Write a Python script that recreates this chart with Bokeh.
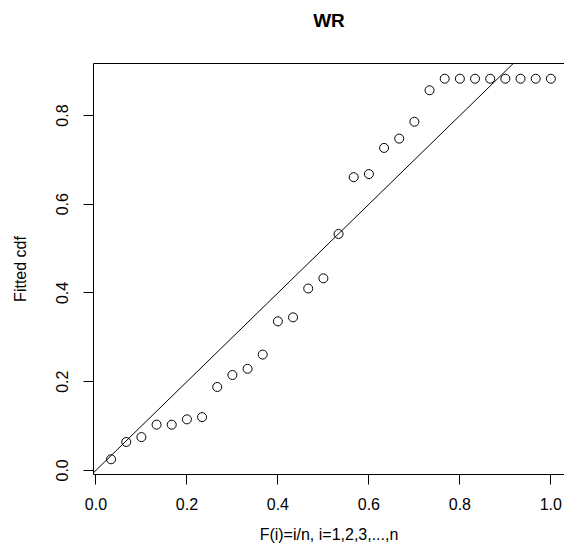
from bokeh.plotting import figure
from bokeh.models import Range1d, FixedTicker, PrintfTickFormatter, LinearAxis, Slope, ColumnDataSource
from bokeh.embed import file_html
from bokeh.resources import INLINE

# ---- data ----
f_i = [1/30, 2/30, 3/30, 4/30, 5/30, 6/30, 7/30, 8/30, 9/30, 10/30,
       11/30, 12/30, 13/30, 14/30, 15/30, 16/30, 17/30, 18/30, 19/30, 20/30,
       21/30, 22/30, 23/30, 24/30, 25/30, 26/30, 27/30, 28/30, 29/30, 30/30]
fitted_cdf = [0.025, 0.064, 0.075, 0.103, 0.103, 0.115, 0.120, 0.188, 0.215, 0.229,
              0.261, 0.336, 0.345, 0.410, 0.433, 0.533, 0.661, 0.668, 0.727, 0.748,
              0.786, 0.857, 0.883, 0.883, 0.883, 0.883, 0.883, 0.883, 0.883, 0.883]
x_ticks = [0.0, 0.2, 0.4, 0.6, 0.8, 1.0]
y_ticks = [0.0, 0.2, 0.4, 0.6, 0.8]
title_text = "WR"
x_label = "F(i)=i/n, i=1,2,3,...,n"
y_label = "Fitted cdf"

FONT = "Liberation Sans"

# R-style 4% axis padding
xr = max(f_i) - min(f_i)
yr = max(fitted_cdf) - min(fitted_cdf)
x_start = min(f_i) - 0.04 * xr
y_start = min(fitted_cdf) - 0.04 * yr
y_end = max(fitted_cdf) + 0.04 * yr
x_end = 1.030  # right edge of the visible (cropped) panel

p = figure(width=564, height=554, output_backend="svg", toolbar_location=None,
           x_range=Range1d(x_start, x_end), y_range=Range1d(y_start, y_end),
           x_axis_label=x_label, y_axis_label=y_label,
           min_border_left=93, min_border_right=0, min_border_top=63, min_border_bottom=80)

p.outline_line_color = None
p.background_fill_color = "white"
p.border_fill_color = "white"
p.xgrid.visible = False
p.ygrid.visible = False

for ax in (p.xaxis[0], p.yaxis[0]):
    ax.axis_line_color = "black"
    ax.axis_line_width = 1
    ax.major_tick_line_color = "black"
    ax.major_tick_out = 10
    ax.major_tick_in = 0
    ax.minor_tick_line_color = None
    ax.major_label_text_font = FONT
    ax.major_label_text_font_size = "16px"
    ax.major_label_text_color = "black"
    ax.axis_label_text_font = FONT
    ax.axis_label_text_font_size = "16px"
    ax.axis_label_text_font_style = "normal"
    ax.axis_label_text_color = "black"
    ax.formatter = PrintfTickFormatter(format="%.1f")

p.xaxis[0].ticker = FixedTicker(ticks=x_ticks)
p.yaxis[0].ticker = FixedTicker(ticks=y_ticks)
p.xaxis[0].major_label_standoff = 13
p.xaxis[0].axis_label_standoff = 13
p.yaxis[0].major_label_orientation = "vertical"
p.yaxis[0].major_label_standoff = 15
p.yaxis[0].axis_label_standoff = 25

# top border line of the box, carrying the main title as its label
top_ax = LinearAxis(ticker=FixedTicker(ticks=[]), major_label_text_font_size="0px",
                    major_tick_line_color=None, minor_tick_line_color=None,
                    axis_line_color="black",
                    axis_label=title_text, axis_label_standoff=33,
                    axis_label_text_font=FONT, axis_label_text_font_size="19px",
                    axis_label_text_font_style="bold", axis_label_text_color="black")
p.add_layout(top_ax, "above")

p.add_layout(Slope(gradient=1, y_intercept=0, line_color="black", line_width=1))

src = ColumnDataSource(dict(x=f_i, y=fitted_cdf))
p.scatter("x", "y", source=src, marker="circle", size=9, fill_color=None,
          line_color="black", line_width=1)

open("out.html", "w").write(file_html(p, INLINE))
